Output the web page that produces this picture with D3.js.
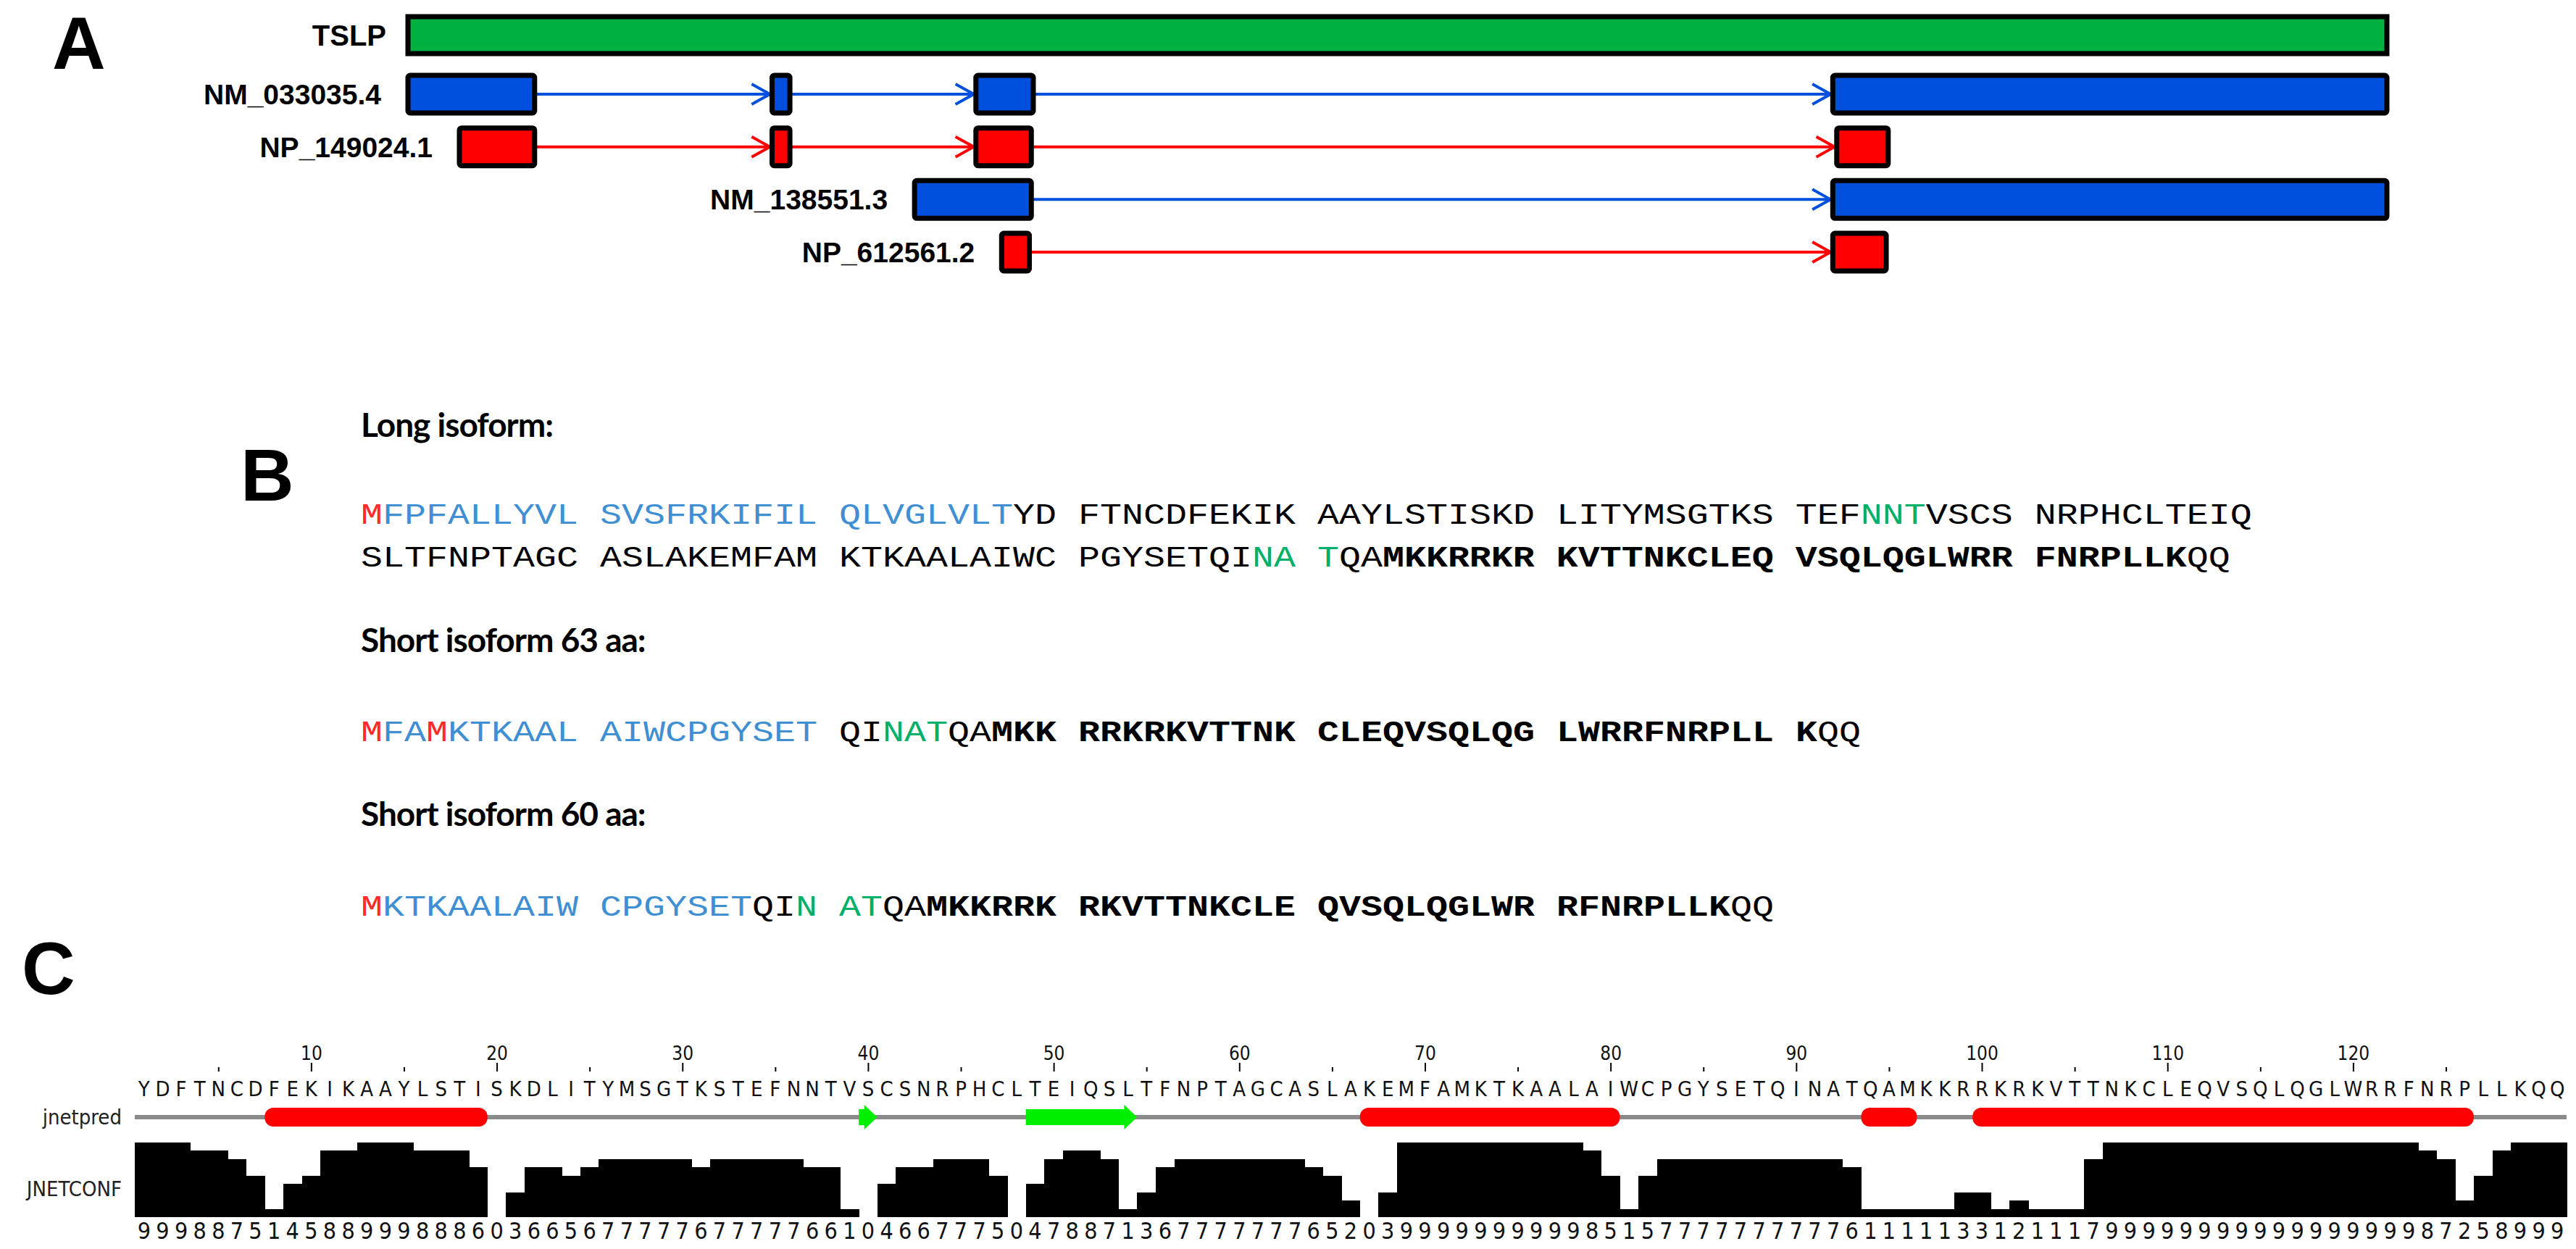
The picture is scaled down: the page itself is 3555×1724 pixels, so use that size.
<!DOCTYPE html>
<html>
<head>
<meta charset="utf-8">
<script src="https://cdn.jsdelivr.net/npm/d3@7"></script>
<style>
  body { margin: 0; background: #fff; }
  text { white-space: pre; }
</style>
</head>
<body>
<script>
// page size
var width = 3555, height = 1724;

// ---- panel A data (gene coordinates in relative units 0..1000)
var geneName = "TSLP";
var geneSpan = [0, 1000];
var rowNames = ["NM_033035.4", "NP_149024.1", "NM_138551.3", "NP_612561.2"];
var rowKinds = ["mrna", "protein", "mrna", "protein"];
var rowExons = [
  [[0, 64], [184, 193], [287, 316], [720, 1000]],
  [[26, 64], [184, 193], [287, 315], [722, 748]],
  [[256, 315], [720, 1000]],
  [[300, 314], [720, 747]]
];

// ---- panel B data
var isoTitles = ["Long isoform:", "Short isoform 63 aa:", "Short isoform 60 aa:"];
var longLine1 = [["M","met"],["FPFALLYVL SVSFRKIFIL QLVGLVLT","sig"],["YD FTNCDFEKIK AAYLSTISKD LITYMSGTKS TEF","n"],["NNT","gly"],["VSCS NRPHCLTEIQ","n"]];
var longLine2 = [["SLTFNPTAGC ASLAKEMFAM KTKAALAIWC PGYSETQI","n"],["NA T","gly"],["QA","n"],["MKKRRKR KVTTNKCLEQ VSQLQGLWRR FNRPLLK","b"],["QQ","n"]];
var short63 = [["M","met"],["FA","sig"],["M","met"],["KTKAAL AIWCPGYSET","sig"],[" QI","n"],["NAT","gly"],["QA","n"],["MKK RRKRKVTTNK CLEQVSQLQG LWRRFNRPLL K","b"],["QQ","n"]];
var short60 = [["M","met"],["KTKAALAIW CPGYSET","sig"],["QI","n"],["N","gly"],[" ","n"],["AT","gly"],["QA","n"],["MKKRRK RKVTTNKCLE QVSQLQGLWR RFNRPLLK","b"],["QQ","n"]];

// ---- panel C data
var seqC = "YDFTNCDFEKIKAAYLSTISKDLITYMSGTKSTEFNNTVSCSNRPHCLTEIQSLTFNPTAGCASLAKEMFAMKTKAALAIWCPGYSETQINATQAMKKRRKRKVTTNKCLEQVSQLQGLWRRFNRPLLKQQ";
var confChunks = ["9998875145","8899988860","3665677777","6777776610","4667775047","8871367777",
  "7776520399","9999999985","1577777777","7761111133","1211179999","9999999999","9998725899","9"];
var helices = [[8, 19], [67, 80], [94, 96], [100, 126]];
var strands = [[40, 40], [49, 54]];
var tickVals = [5,10,15,20,25,30,35,40,45,50,55,60,65,70,75,80,85,90,95,100,105,110,115,120,125];

var svg = d3.select("body").append("svg")
    .attr("width", width).attr("height", height);

var panelFont = "Liberation Sans, Arial, sans-serif";

// panel letters
[["A", 72, 95], ["B", 332, 691], ["C", 30, 1372]].forEach(function(p){
  svg.append("text").text(p[0]).attr("x", p[1]).attr("y", p[2])
    .style("font-family", panelFont).style("font-weight", "bold").style("font-size", "102px");
});

// ================= panel A
var xg = d3.scaleLinear().domain(geneSpan).range([563, 3294]);
var yRow = d3.scalePoint().domain(rowNames).range([130, 348]);
var colour = {mrna: "#0050dd", protein: "#ff0000"};
var exonH = 52;

var gA = svg.append("g");

gA.append("rect")
  .attr("x", xg(geneSpan[0])).attr("y", 23)
  .attr("width", xg(geneSpan[1]) - xg(geneSpan[0])).attr("height", 51)
  .attr("fill", "#00b040").attr("stroke", "#000").attr("stroke-width", 7);
gA.append("text").text(geneName)
  .attr("x", xg(geneSpan[0]) - 30).attr("y", 63).attr("text-anchor", "end")
  .style("font-family", panelFont).style("font-weight", "bold").style("font-size", "40px");

// arrow markers
["mrna", "protein"].forEach(function(k){
  svg.append("defs").append("marker")
    .attr("id", "arr-" + k).attr("viewBox", "0 0 10 10")
    .attr("refX", 10).attr("refY", 5)
    .attr("markerWidth", 7).attr("markerHeight", 9)
    .attr("markerUnits", "strokeWidth").attr("orient", "auto")
    .append("path").attr("d", "M1,0 L10,5 L1,10")
    .attr("fill", "none").attr("stroke", colour[k]).attr("stroke-width", 1.4);
});

rowNames.forEach(function(name, r){
  var exons = rowExons[r], kind = rowKinds[r], cy = yRow(name);
  var g = gA.append("g");
  // connecting lines with arrowheads
  g.selectAll("line").data(d3.pairs(exons)).enter().append("line")
    .attr("x1", function(d){ return xg(d[0][1]) + 3; })
    .attr("x2", function(d){ return xg(d[1][0]) - 3; })
    .attr("y1", cy).attr("y2", cy)
    .attr("stroke", colour[kind]).attr("stroke-width", 4)
    .attr("marker-end", "url(#arr-" + kind + ")");
  g.selectAll("rect").data(exons).enter().append("rect")
    .attr("x", function(d){ return xg(d[0]); })
    .attr("width", function(d){ return xg(d[1]) - xg(d[0]); })
    .attr("y", cy - exonH / 2).attr("height", exonH)
    .attr("rx", 3)
    .attr("fill", colour[kind]).attr("stroke", "#000").attr("stroke-width", 7);
  g.append("text").text(name)
    .attr("x", xg(exons[0][0]) - 37).attr("y", cy + 14).attr("text-anchor", "end")
    .style("font-family", panelFont).style("font-weight", "bold").style("font-size", "39px");
});

// ================= panel B
var seqStyle = {
  met: {fill: "#ff2a2a", weight: "normal"},
  sig: {fill: "#3f8fd2", weight: "normal"},
  gly: {fill: "#00b06a", weight: "normal"},
  n:   {fill: "#000", weight: "normal"},
  b:   {fill: "#000", weight: "bold"}
};
var gB = svg.append("g");
var titleY = [603, 900, 1140];
isoTitles.forEach(function(t, i){
  gB.append("text").text(t).attr("x", 498).attr("y", titleY[i])
    .style("font-family", "Lato, 'Open Sans', sans-serif").style("font-weight", "bold")
    .style("font-size", "46px").style("letter-spacing", "-1px");
});

function seqLine(segs, y){
  var t = gB.append("g").attr("transform", "translate(498," + y + ") scale(1.25,1)")
    .append("text").attr("x", 0).attr("y", 0)
    .style("font-family", "'Liberation Mono', 'DejaVu Sans Mono', monospace")
    .style("font-size", "40px");
  t.selectAll("tspan").data(segs).enter().append("tspan")
    .text(function(d){ return d[0]; })
    .attr("fill", function(d){ return seqStyle[d[1]].fill; })
    .style("font-weight", function(d){ return seqStyle[d[1]].weight; });
}
seqLine(longLine1, 723);
seqLine(longLine2, 782);
seqLine(short63, 1023);
seqLine(short60, 1264);

// ================= panel C
var n = seqC.length;
var xb = d3.scaleBand().domain(d3.range(1, n + 1)).range([186, 3542]).padding(0);
var xc = d3.scaleLinear().domain([1, n]).range([186 + xb.bandwidth() / 2, 3542 - xb.bandwidth() / 2]);
var yConf = d3.scaleLinear().domain([0, 9]).range([1680, 1577]);
var condFont = "'DejaVu Sans Condensed', 'Liberation Sans', sans-serif";

var gC = svg.append("g");

var axis = gC.append("g").attr("transform", "translate(0,1479)")
  .call(d3.axisTop(xc).tickValues(tickVals).tickSize(12).tickPadding(4)
    .tickFormat(function(d){ return d % 10 ? "" : d; }));
axis.select(".domain").remove();
axis.selectAll(".tick line").attr("stroke-width", 2)
  .attr("y2", function(d){ return d % 10 ? -6 : -12; });
axis.selectAll(".tick text").style("font-family", condFont).style("font-size", "26px").attr("fill", "#111");

// residue letters
gC.selectAll("text.res").data(seqC.split("")).enter().append("text")
  .attr("class", "res").text(function(d){ return d; })
  .attr("x", function(d, i){ return xc(i + 1); }).attr("y", 1513)
  .attr("text-anchor", "middle")
  .style("font-family", condFont).style("font-size", "29px").attr("fill", "#111");

// jnetpred track
gC.append("line").attr("x1", 186).attr("x2", 3542).attr("y1", 1542).attr("y2", 1542)
  .attr("stroke", "#8a8a8a").attr("stroke-width", 6);
gC.selectAll("rect.helix").data(helices).enter().append("rect")
  .attr("class", "helix")
  .attr("x", function(d){ return xb(d[0]); })
  .attr("width", function(d){ return xb(d[1]) + xb.bandwidth() - xb(d[0]); })
  .attr("y", 1529).attr("height", 26).attr("rx", 12)
  .attr("fill", "#ff0000");
gC.selectAll("path.strand").data(strands).enter().append("path")
  .attr("class", "strand")
  .attr("d", function(d){
    var x0 = xb(d[0]), x1 = xb(d[1]) + xb.bandwidth(), head = Math.min(18, x1 - x0);
    return "M" + x0 + ",1531 L" + (x1 - head) + ",1531 L" + (x1 - head) + ",1525 L" + x1 + ",1542 L" +
      (x1 - head) + ",1559 L" + (x1 - head) + ",1553 L" + x0 + ",1553 Z";
  })
  .attr("fill", "#00ee00");

gC.append("text").text("jnetpred").attr("x", 168).attr("y", 1552).attr("text-anchor", "end")
  .style("font-family", condFont).style("font-size", "29px").attr("fill", "#222");
gC.append("text").text("JNETCONF").attr("x", 168).attr("y", 1651).attr("text-anchor", "end")
  .style("font-family", condFont).style("font-size", "29px").attr("fill", "#222");

// confidence bars
var conf = confChunks.join("").split("").map(Number);
gC.selectAll("rect.conf").data(conf).enter().append("rect")
  .attr("class", "conf")
  .attr("x", function(d, i){ return xb(i + 1); })
  .attr("width", xb.bandwidth() + 0.6)
  .attr("y", function(d){ return yConf(d); })
  .attr("height", function(d){ return yConf(0) - yConf(d); })
  .attr("shape-rendering", "crispEdges")
  .attr("fill", "#000");

gC.selectAll("text.conf").data(conf).enter().append("text")
  .attr("class", "conf").text(function(d){ return d; })
  .attr("x", function(d, i){ return xc(i + 1); }).attr("y", 1710)
  .attr("text-anchor", "middle")
  .style("font-family", condFont).style("font-size", "32px").attr("fill", "#111");
</script>
</body>
</html>
